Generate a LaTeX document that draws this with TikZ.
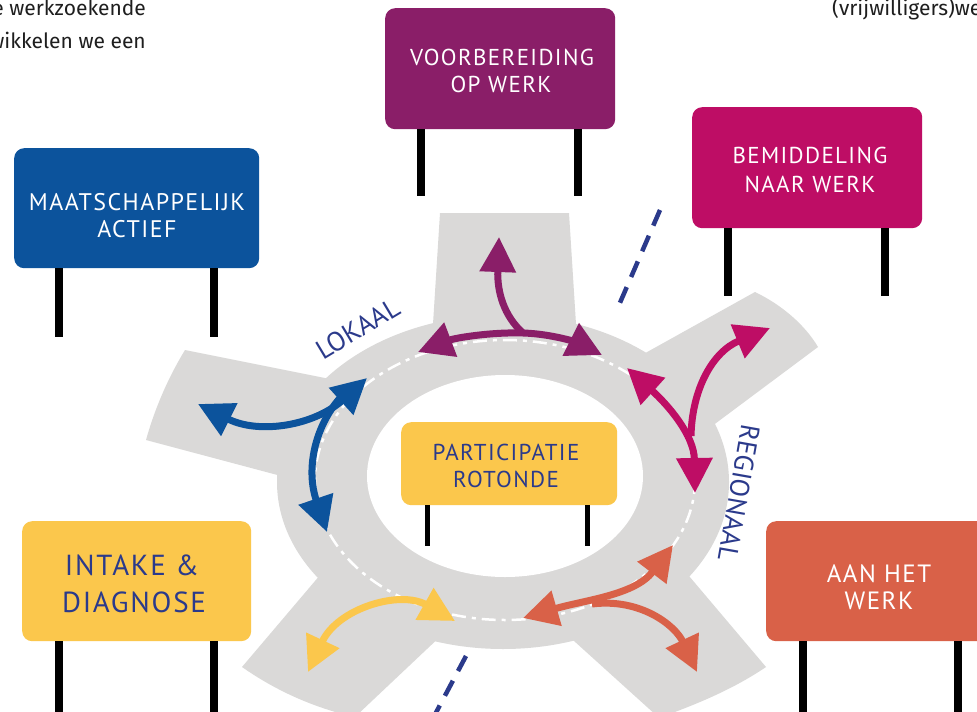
\documentclass[tikz,border=0pt]{standalone}
\usepackage{fontspec}
\setmainfont{Fira Sans}
\newfontfamily\hand{PT Sans}[LetterSpace=6]
\newfontfamily\handplain{PT Sans}
\usetikzlibrary{arrows.meta}
\definecolor{road}{HTML}{DAD9D8}
\definecolor{cpurple}{HTML}{8A1E68}
\definecolor{cmagenta}{HTML}{BE0D65}
\definecolor{cblue}{HTML}{0C539C}
\definecolor{cyellow}{HTML}{FBC74C}
\definecolor{corange}{HTML}{D96148}
\definecolor{cnavy}{HTML}{2B3A8B}
\definecolor{ctext}{HTML}{1E1E1E}
\tikzset{
  signbox/.style={fill=#1, rounded corners=10pt, anchor=north west, inner sep=0pt, draw=none},
  post/.style={line width=8pt, black},
  thinpost/.style={line width=5pt, black},
  flow/.style={line width=7pt, draw=#1, fill=none},
  arr/.tip={Triangle[length=35pt,width=35pt]},
  signtext/.style={anchor=base, inner sep=0pt, font=\hand\fontsize{#1}{#1}\selectfont},
  bodytext/.style={inner sep=0pt, text=ctext, font=\fontsize{21}{24}\selectfont},
  roadlabel/.style={inner sep=0pt, text=cnavy, font=\handplain\fontsize{27}{27}\selectfont},
  divider/.style={cnavy, line width=4.5pt, dash pattern=on 17pt off 11pt},
  lane/.style={white, line width=2.5pt, dash pattern=on 14pt off 6pt on 4pt off 6pt}
}
\begin{document}
\begin{tikzpicture}[x=1pt,y=-1pt]
\path[use as bounding box] (0,0) rectangle (977,712);
\clip (0,0) rectangle (977,712);
\fill[white] (0,0) rectangle (977,712);

% body text fragments
\node[bodytext, anchor=base east] (txa) at (146,15) {e werkzoekende};
\node[bodytext, anchor=base east] (txb) at (146,48) {wikkelen we een};
\node[bodytext, anchor=base west] (txc) at (832,15) {(vrijwilligers)we};

% roads
\fill[road] (440,213) -- (569,213) -- (577,340) -- (432,340) -- cycle;
\fill[road] (185,350) -- (335,380) -- (300,481) -- (146,440) .. controls (155,408) and (168,378) .. (185,350) -- cycle;
\fill[road] (640,356) -- (755,292) .. controls (782,305) and (805,325) .. (818,347) -- (700,435) -- cycle;
\fill[road] (332,561) -- (242,667) .. controls (275,690) and (310,706) .. (350,716) -- (356,716) -- (445,632) -- cycle;
\fill[road] (563,631) -- (657,716) -- (664,716) .. controls (700,703) and (735,688) .. (766,667) -- (678,563) -- cycle;
\fill[road] (503,482) ellipse [x radius=226, y radius=167];
\fill[white] (505,476) ellipse [x radius=138, y radius=101];
\draw[lane] (505,480) ellipse [x radius=190, y radius=140];

% dividers
\coordinate (d1a) at (660,210);
\coordinate (d1b) at (616,312);
\coordinate (d2a) at (466,656);
\coordinate (d2b) at (431,722);
\draw[divider] (d1a) -- (d1b);
\draw[divider] (d2a) -- (d2b);

% purple arrows
\coordinate (pL) at (418,352);
\coordinate (pR) at (602,355);
\coordinate (pJ) at (523,333);
\coordinate (pU) at (499,237);
\draw[flow=cpurple, {arr}-{arr}] (pL) .. controls (455,338) and (490,332) .. (pJ) .. controls (555,334) and (580,344) .. (pR);
\draw[flow=cpurple, -{arr}] (pJ) .. controls (504,316) and (497,292) .. (pU);

% blue arrows
\coordinate (bL) at (198,404);
\coordinate (bR) at (367,378);
\coordinate (bJ) at (340,398);
\coordinate (bD) at (327,532);
\draw[flow=cblue, {arr}-{arr}] (bL) .. controls (260,435) and (315,425) .. (bR);
\draw[flow=cblue, -{arr}] (bJ) .. controls (314,428) and (306,470) .. (bD);

% magenta arrows
\coordinate (mUL) at (627,368);
\coordinate (mD) at (695,493);
\coordinate (mJ) at (691,436);
\coordinate (mUR) at (770,328);
\draw[flow=cmagenta, {arr}-{arr}] (mUL) .. controls (668,405) and (694,435) .. (mD);
\draw[flow=cmagenta, -{arr}] (mJ) .. controls (692,390) and (712,352) .. (mUR);

% orange arrows
\coordinate (oL) at (523,618);
\coordinate (oUR) at (673,545);
\coordinate (oJ) at (592,604);
\coordinate (oDR) at (697,672);
\draw[flow=corange, {arr}-{arr}] (oL) .. controls (585,600) and (635,595) .. (oUR);
\draw[flow=corange, -{arr}] (oJ) .. controls (640,598) and (675,625) .. (oDR);

% yellow arrow
\coordinate (yL) at (308,672);
\coordinate (yR) at (455,621);
\draw[flow=cyellow, {arr}-{arr}] (yL) .. controls (338,608) and (400,590) .. (yR);

% signs
\node[signbox=cpurple, minimum width=230pt, minimum height=121pt] (s1) at (385,8) {};
\node[signbox=cmagenta, minimum width=230pt, minimum height=121pt] (s2) at (692,107) {};
\node[signbox=cblue, minimum width=245pt, minimum height=120pt] (s3) at (14,148) {};
\node[signbox=cyellow, minimum width=229pt, minimum height=120pt] (s4) at (22,521) {};
\node[signbox=corange, minimum width=230pt, minimum height=120pt] (s5) at (766,521) {};
\node[signbox=cyellow, minimum width=216pt, minimum height=83pt] (s6) at (401,422) {};

% posts
\draw[post] ([xshift=36pt]s1.south west) -- ++(0,67);
\draw[post] ([xshift=-37pt]s1.south east) -- ++(0,67);
\draw[post] ([xshift=36pt]s2.south west) -- ++(0,68);
\draw[post] ([xshift=-37pt]s2.south east) -- ++(0,68);
\draw[post] ([xshift=45pt]s3.south west) -- ++(0,69);
\draw[post] ([xshift=-45pt]s3.south east) -- ++(0,69);
\draw[post] ([xshift=37pt]s4.south west) -- ++(0,80);
\draw[post] ([xshift=-37pt]s4.south east) -- ++(0,80);
\draw[post] ([xshift=37pt]s5.south west) -- ++(0,80);
\draw[post] ([xshift=-38pt]s5.south east) -- ++(0,80);
\draw[thinpost] ([xshift=26pt]s6.south west) -- ++(0,41);
\draw[thinpost] ([xshift=-30pt]s6.south east) -- ++(0,41);

% sign texts
\node[signtext=23, text=white] (t1a) at (502,65) {VOORBEREIDING};
\node[signtext=23, text=white] (t1b) at (501,92) {OP WERK};
\node[signtext=23, text=white] (t2a) at (810,163) {BEMIDDELING};
\node[signtext=23, text=white] (t2b) at (810,192) {NAAR WERK};
\node[signtext=24, text=white] (t3a) at (137,210) {MAATSCHAPPELIJK};
\node[signtext=24, text=white] (t3b) at (137,237) {ACTIEF};
\node[signtext=29, text=cnavy] (t4a) at (132,575) {INTAKE \&};
\node[signtext=29, text=cnavy] (t4b) at (134,612) {DIAGNOSE};
\node[signtext=25, text=white] (t5a) at (879,582) {AAN HET};
\node[signtext=25, text=white] (t5b) at (879,609) {WERK};
\node[signtext=23, text=cnavy] (t6a) at (506,460) {PARTICIPATIE};
\node[signtext=23, text=cnavy] (t6b) at (506,487) {ROTONDE};

% road labels
\node[roadlabel, rotate=31] (lok) at (358,329) {LOKAAL};
\node[roadlabel, rotate=-100] (reg) at (739,493) {REGIONAAL};
\end{tikzpicture}
\end{document}
